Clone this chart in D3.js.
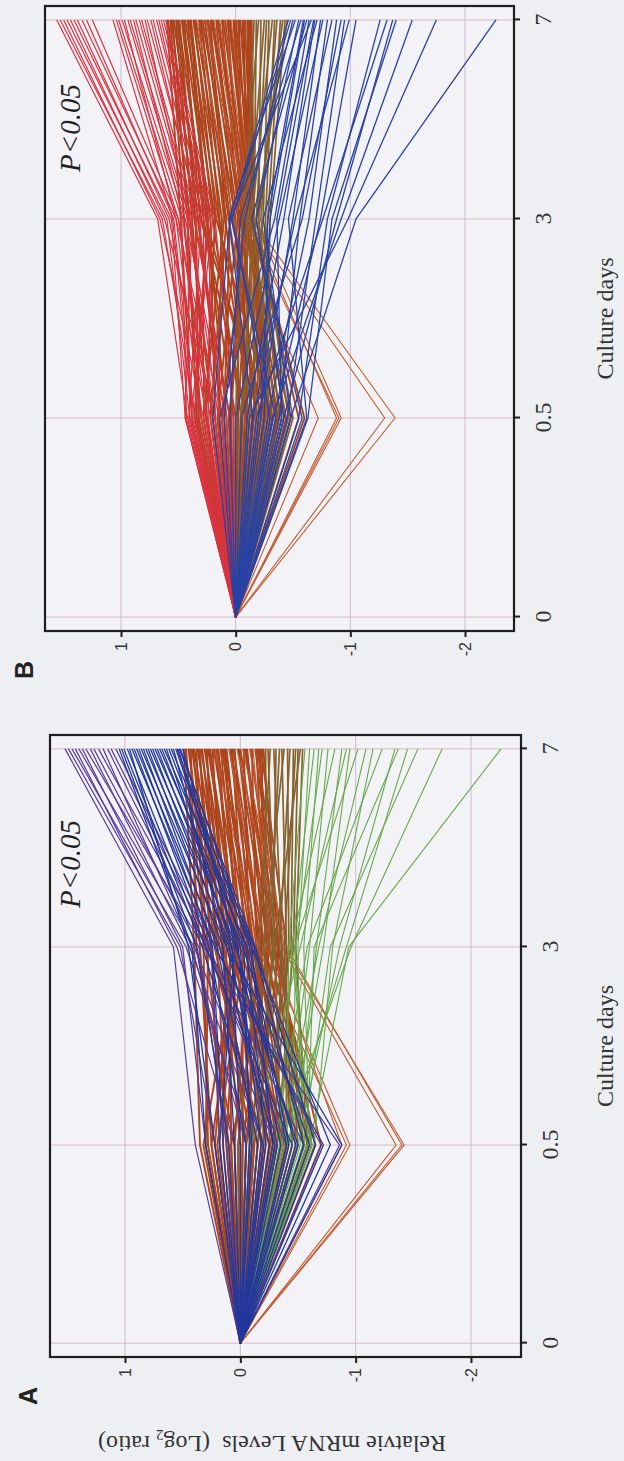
<!DOCTYPE html>
<html>
<head>
<meta charset="utf-8">
<script src="https://cdn.jsdelivr.net/npm/d3@7/dist/d3.min.js"></script>
<style>
  html, body { margin: 0; padding: 0; background: #eeeff3; }
  svg { display: block; }
</style>
</head>
<body>
<svg id="chart"></svg>
<script>
// x categories (culture days) and y ticks (log2 ratio)
const days = ["0", "0.5", "3", "7"];
const valueTicks = [1, 0, -1, -2];

// every profile starts at 0 on day 0; rows are [day 0.5, day 3, day 7]
// panel A
const aPurple = [
  [0.39, 0.58, 1.52], [0.22, 0.52, 1.49], [-0.10, 0.47, 1.46], [0.05, 0.55, 1.43],
  [-0.30, 0.40, 1.40], [0.30, 0.50, 1.37], [-0.86, 0.32, 1.34], [-0.20, 0.44, 1.30],
  [0.12, 0.36, 1.27], [-0.55, 0.28, 1.23], [-0.05, 0.42, 1.19], [-0.40, 0.30, 1.15],
  [0.18, 0.25, 1.12], [-0.70, 0.22, 1.08]
];
const aBlue = [
  [0.30, 0.42, 1.05], [0.10, 0.38, 1.03], [-0.20, 0.33, 1.01], [-0.45, 0.30, 0.98],
  [0.22, 0.45, 0.96], [-0.72, 0.22, 0.94], [-0.05, 0.27, 0.92], [-0.30, 0.18, 0.90],
  [0.15, 0.24, 0.88], [-0.88, 0.12, 0.86], [-0.15, 0.20, 0.84], [-0.50, 0.08, 0.82],
  [0.05, 0.15, 0.80], [-0.35, 0.03, 0.78], [-0.25, 0.10, 0.76], [-0.60, -0.02, 0.74],
  [0.18, 0.05, 0.72], [-0.40, -0.06, 0.70], [-0.10, 0.00, 0.68], [-0.78, -0.10, 0.66],
  [0.00, 0.07, 0.64], [-0.22, -0.05, 0.62], [-0.55, -0.12, 0.60], [-0.32, 0.12, 0.58],
  [-0.08, -0.03, 0.56], [-0.42, -0.08, 0.55], [-0.18, 0.02, 0.54], [-0.65, -0.13, 0.53],
  [-0.28, -0.10, 0.52], [-0.48, 0.04, 0.50]
];
const aBrown = [
  [0.35, 0.40, 0.49], [0.10, 0.30, 0.48], [0.25, 0.35, 0.47], [-0.15, 0.22, 0.45],
  [0.30, 0.28, 0.44], [0.05, 0.38, 0.43], [-0.30, 0.18, 0.42], [0.18, 0.25, 0.41],
  [-0.05, 0.14, 0.40], [0.28, 0.32, 0.38], [-0.40, 0.10, 0.37], [0.12, 0.20, 0.36],
  [-0.20, 0.26, 0.35], [0.22, 0.08, 0.34], [0.00, 0.16, 0.33], [-0.35, 0.05, 0.31],
  [0.15, 0.12, 0.30], [-0.10, 0.22, 0.29], [0.32, 0.02, 0.28], [-0.48, 0.00, 0.27],
  [0.08, 0.09, 0.26], [-0.25, 0.15, 0.24], [0.20, -0.04, 0.23],
  [-0.12, 0.04, 0.21], [0.05, -0.08, 0.20], [-0.38, 0.06, 0.19], [0.25, 0.01, 0.17],
  [-0.55, -0.10, 0.16], [-0.02, -0.02, 0.15], [-0.28, -0.12, 0.14], [0.12, 0.03, 0.13],
  [-0.18, -0.06, 0.12], [-0.42, -0.14, 0.09], [0.02, -0.18, 0.08],
  [-0.32, -0.04, 0.07], [-0.60, -0.20, 0.06], [-0.08, -0.10, 0.05],
  [-0.22, -0.24, 0.02], [-0.50, -0.16, 0.01], [0.08, -0.26, 0.00],
  [-0.36, -0.08, -0.03], [-0.15, -0.28, -0.04], [-0.65, -0.30, -0.05], [-0.05, -0.20, -0.06],
  [-0.45, -0.32, -0.09], [-0.26, -0.14, -0.10],
  [-0.12, -0.34, -0.13], [-0.55, -0.22, -0.14], [-0.30, -0.36, -0.15], [-0.70, -0.28, -0.16],
  [-0.02, -0.24, -0.17], [-0.40, -0.40, -0.18], [-0.20, -0.18, -0.19], [-0.58, -0.33, -0.20]
];
// the few profiles that dip hard at day 0.5
const aSpike = [
  [-0.92, -0.15, 0.22], [-0.95, -0.22, 0.10], [-1.35, -0.36, 0.03],
  [-1.40, -0.40, -0.02], [-1.42, -0.38, -0.08], [-0.88, -0.26, -0.11]
];
const aOlive = [
  [-0.10, -0.22, -0.22], [-0.35, -0.30, -0.24], [0.02, -0.16, -0.26], [-0.50, -0.36, -0.29],
  [-0.20, -0.28, -0.31], [-0.62, -0.25, -0.34], [-0.05, -0.40, -0.36], [-0.40, -0.20, -0.38],
  [-0.28, -0.42, -0.41], [-0.55, -0.34, -0.43], [-0.15, -0.44, -0.46], [-0.45, -0.38, -0.48],
  [-0.32, -0.46, -0.50], [-0.08, -0.30, -0.52], [-0.58, -0.48, -0.54]
];
const aGreen = [
  [-0.40, -0.42, -0.56], [-0.52, -0.50, -0.60], [-0.34, -0.45, -0.64], [-0.60, -0.55, -0.68],
  [-0.45, -0.48, -0.71], [-0.38, -0.60, -0.76], [-0.62, -0.44, -0.82], [-0.48, -0.66, -0.88],
  [-0.10, -0.52, -0.92], [-0.42, -0.72, -0.95], [-0.56, -0.47, -1.02], [-0.36, -0.68, -1.09],
  [-0.64, -0.80, -1.15], [-0.30, -0.58, -1.23], [-0.50, -0.86, -1.34], [-0.58, -0.64, -1.37],
  [-0.40, -0.92, -1.45], [-0.54, -0.78, -1.54], [-0.35, -0.96, -1.75], [-0.60, -0.94, -2.26]
];

// panel B
const bRed = [
  [0.42, 0.68, 1.56], [0.35, 0.64, 1.53], [0.28, 0.66, 1.50], [0.40, 0.60, 1.47],
  [0.18, 0.62, 1.44], [0.44, 0.56, 1.41], [0.25, 0.58, 1.38], [0.12, 0.52, 1.34],
  [0.36, 0.54, 1.30], [0.22, 0.50, 1.25],
  [0.38, 0.55, 1.07], [0.20, 0.50, 1.04], [0.43, 0.47, 1.02], [0.08, 0.44, 0.99],
  [0.30, 0.52, 0.97], [0.40, 0.42, 0.94], [0.15, 0.40, 0.92], [0.26, 0.46, 0.89],
  [0.44, 0.38, 0.87], [0.05, 0.36, 0.84], [0.33, 0.34, 0.82], [0.18, 0.41, 0.79],
  [0.41, 0.30, 0.77], [0.10, 0.32, 0.74], [0.28, 0.28, 0.72], [0.36, 0.25, 0.69],
  [0.14, 0.26, 0.67], [0.24, 0.22, 0.65], [0.39, 0.20, 0.63], [0.02, 0.18, 0.61]
];
const bBrown = [
  [0.38, 0.48, 0.60], [0.20, 0.40, 0.59], [0.30, 0.45, 0.57], [0.05, 0.36, 0.56],
  [0.34, 0.42, 0.55], [-0.10, 0.30, 0.54], [0.25, 0.38, 0.52], [0.12, 0.33, 0.51],
  [-0.20, 0.26, 0.50], [0.32, 0.35, 0.49], [0.00, 0.28, 0.47], [0.18, 0.22, 0.46],
  [-0.28, 0.31, 0.45], [0.26, 0.18, 0.44], [0.08, 0.25, 0.42], [-0.15, 0.15, 0.41],
  [0.36, 0.24, 0.40], [-0.05, 0.20, 0.39], [0.15, 0.12, 0.37], [-0.32, 0.17, 0.36],
  [0.22, 0.08, 0.35], [0.02, 0.14, 0.32], [-0.22, 0.06, 0.31],
  [0.28, 0.10, 0.30], [-0.08, 0.00, 0.29], [0.10, 0.05, 0.27],
  [-0.35, 0.03, 0.25], [0.16, -0.02, 0.24], [-0.12, 0.09, 0.22], [-0.25, -0.04, 0.21],
  [0.04, -0.06, 0.20], [-0.18, 0.01, 0.17], [-0.40, -0.08, 0.16],
  [0.12, -0.10, 0.15], [-0.02, -0.03, 0.12], [-0.30, -0.12, 0.11],
  [-0.14, -0.07, 0.09], [-0.48, -0.05, 0.07], [0.06, -0.13, 0.06],
  [-0.26, -0.15, 0.05], [-0.06, -0.09, 0.02], [-0.36, -0.11, 0.01],
  [-0.20, -0.16, 0.00], [-0.55, -0.13, -0.02], [-0.10, -0.05, -0.03], [-0.32, -0.16, -0.04],
  [-0.02, -0.12, -0.06], [-0.44, -0.10, -0.07], [-0.24, -0.15, -0.08], [-0.60, -0.14, -0.10],
  [-0.16, -0.16, -0.11], [-0.37, -0.08, -0.12], [-0.08, -0.14, -0.13], [-0.28, -0.16, -0.14]
];
const bSpike = [
  [-0.72, 0.02, 0.34], [-0.90, -0.08, 0.26], [-1.30, -0.10, 0.19],
  [-0.88, -0.12, 0.14], [-1.39, -0.14, 0.10], [-0.92, -0.16, 0.04]
];
const bOlive = [
  [-0.10, -0.10, -0.16], [-0.30, -0.16, -0.18], [0.00, -0.06, -0.20], [-0.42, -0.20, -0.22],
  [-0.18, -0.12, -0.25], [-0.50, -0.18, -0.27], [-0.05, -0.24, -0.29], [-0.35, -0.14, -0.32],
  [-0.22, -0.26, -0.34], [-0.46, -0.22, -0.36], [-0.12, -0.28, -0.39], [-0.38, -0.20, -0.41],
  [-0.26, -0.30, -0.43], [-0.04, -0.18, -0.45]
];
const bBlue = [
  [0.20, 0.05, -0.46], [-0.30, 0.03, -0.48], [0.10, -0.08, -0.50], [-0.15, 0.06, -0.52],
  [-0.42, -0.18, -0.55], [0.05, -0.04, -0.57], [-0.25, -0.28, -0.59], [-0.58, -0.14, -0.62],
  [0.14, -0.34, -0.64], [-0.35, 0.04, -0.66], [-0.10, -0.42, -0.69], [-0.48, -0.24, -0.71],
  [-0.20, -0.50, -0.74], [0.00, -0.38, -0.76], [-0.38, -0.56, -0.80], [-0.62, -0.46, -0.84],
  [-0.28, -0.64, -0.88], [-0.05, -0.58, -0.92], [-0.45, -0.70, -0.95], [-0.15, -0.52, -0.99],
  [-0.33, -0.74, -1.05], [-0.55, -0.80, -1.26], [-0.18, -0.76, -1.32], [-0.42, -0.88, -1.37],
  [-0.63, -0.84, -1.40], [-0.32, -0.92, -1.54], [-0.12, -0.98, -1.75], [-0.48, -1.05, -2.27],
  [-0.22, -0.30, -0.60], [-0.40, -0.36, -0.68]
];

// The scanned figure is landscape turned a quarter to the left,
// so everything is drawn in a 1461 x 624 frame and rotated.
const W = 1461, H = 624;
const serif = "'Liberation Serif', 'Times New Roman', serif";
const sans = "'Liberation Sans', Arial, sans-serif";

const svg = d3.select("#chart").attr("width", H).attr("height", W);
svg.append("rect").attr("width", H).attr("height", W).attr("fill", "#eeeff3");

const fig = svg.append("g").attr("transform", `translate(0,${W}) rotate(-90)`);

const panels = [
  {
    label: "A", labelX: 65, labelY: 37, pX: 553, pY: 80,
    box: { left: 104, right: 726, top: 50, bottom: 521 }, yRange: [125, 471],
    groups: [
      { rows: aBrown, color: "#ad441c", width: 1.9 },
      { rows: aSpike, color: "#c45a30", width: 1.1 },
      { rows: aOlive, color: "#85622e", width: 1.7 },
      { rows: aGreen, color: "#66a84a", width: 1.1 },
      { rows: aPurple, color: "#583c9c", width: 1.2 },
      { rows: aBlue, color: "#22389c", width: 1.3 }
    ]
  },
  {
    label: "B", labelX: 791, labelY: 33, pX: 1289, pY: 80,
    box: { left: 830, right: 1455, top: 45, bottom: 514 }, yRange: [121, 465],
    groups: [
      { rows: bBrown, color: "#ad441c", width: 1.9 },
      { rows: bSpike, color: "#c45a30", width: 1.1 },
      { rows: bOlive, color: "#85622e", width: 1.7 },
      { rows: bRed, color: "#d9333f", width: 1.2 },
      { rows: bBlue, color: "#2842a6", width: 1.3 }
    ]
  }
];

panels.forEach(p => {
  const b = p.box;
  const x = d3.scalePoint().domain(days).range([b.left, b.right]).padding(0.07);
  const y = d3.scaleLinear().domain([1, -2]).range(p.yRange);
  const g = fig.append("g");

  // plot background
  g.append("rect")
    .attr("x", b.left).attr("y", b.top)
    .attr("width", b.right - b.left).attr("height", b.bottom - b.top)
    .attr("fill", "#f3f3f7");

  // grid lines
  g.append("g")
    .selectAll("line")
    .data(days)
    .join("line")
    .attr("x1", d => x(d)).attr("x2", d => x(d))
    .attr("y1", b.top).attr("y2", b.bottom)
    .attr("stroke", "#d4b4bc").attr("stroke-width", 0.9);
  g.append("g")
    .selectAll("line")
    .data(valueTicks)
    .join("line")
    .attr("x1", b.left).attr("x2", b.right)
    .attr("y1", d => y(d)).attr("y2", d => y(d))
    .attr("stroke", "#cdb6cc").attr("stroke-width", 0.9);

  // expression profiles
  const line = d3.line()
    .x((d, i) => x(days[i]))
    .y(d => y(d));

  p.groups.forEach(grp => {
    g.append("g")
      .attr("fill", "none")
      .attr("stroke", grp.color)
      .attr("stroke-width", grp.width)
      .attr("stroke-linejoin", "round")
      .selectAll("path")
      .data(grp.rows)
      .join("path")
      .attr("d", r => line([0, ...r]));
  });

  // frame
  g.append("rect")
    .attr("x", b.left).attr("y", b.top)
    .attr("width", b.right - b.left).attr("height", b.bottom - b.top)
    .attr("fill", "none").attr("stroke", "#1e1e1e").attr("stroke-width", 2.2);

  // x axis (culture days)
  const xAxis = g.append("g")
    .attr("transform", `translate(0,${b.bottom})`)
    .call(d3.axisBottom(x).tickSize(6).tickSizeOuter(0).tickPadding(30));
  xAxis.select(".domain").remove();
  xAxis.selectAll("line").attr("stroke", "#1e1e1e").attr("stroke-width", 2);
  xAxis.selectAll("text")
    .attr("font-family", serif).attr("font-size", 24).attr("fill", "#333")
    .attr("dy", "0.05em");

  g.append("text")
    .attr("x", (b.left + b.right) / 2).attr("y", 613)
    .attr("text-anchor", "middle")
    .attr("font-family", serif).attr("font-size", 24).attr("fill", "#333")
    .text("Culture days");

  // y axis (log2 ratio)
  const yAxis = g.append("g")
    .attr("transform", `translate(${b.left},0)`)
    .call(d3.axisLeft(y).tickValues(valueTicks).tickFormat(d => String(d))
      .tickSize(6).tickSizeOuter(0).tickPadding(5));
  yAxis.select(".domain").remove();
  yAxis.selectAll("line").attr("stroke", "#1e1e1e").attr("stroke-width", 2);
  yAxis.selectAll("text")
    .attr("font-family", sans).attr("font-size", 16).attr("fill", "#333");

  // significance note and panel letter
  g.append("text")
    .attr("x", p.pX).attr("y", p.pY)
    .attr("font-family", serif).attr("font-style", "italic")
    .attr("font-size", 29).attr("fill", "#222")
    .text("P<0.05");

  g.append("text")
    .attr("x", p.labelX).attr("y", p.labelY)
    .attr("text-anchor", "middle")
    .attr("font-family", sans).attr("font-weight", "bold")
    .attr("font-size", 25).attr("fill", "#222")
    .text(p.label);
});

// shared y axis title, left of panel A
const yTitle = fig.append("text")
  .attr("transform", "translate(25,272) rotate(-90)")
  .attr("text-anchor", "middle")
  .attr("font-family", serif).attr("font-size", 24).attr("fill", "#333");
yTitle.append("tspan").text("Relatvie mRNA Levels\u00a0\u00a0(Log");
yTitle.append("tspan").attr("font-size", 15).attr("dy", 6).text("2");
yTitle.append("tspan").attr("dy", -6).text(" ratio)");
</script>
</body>
</html>
